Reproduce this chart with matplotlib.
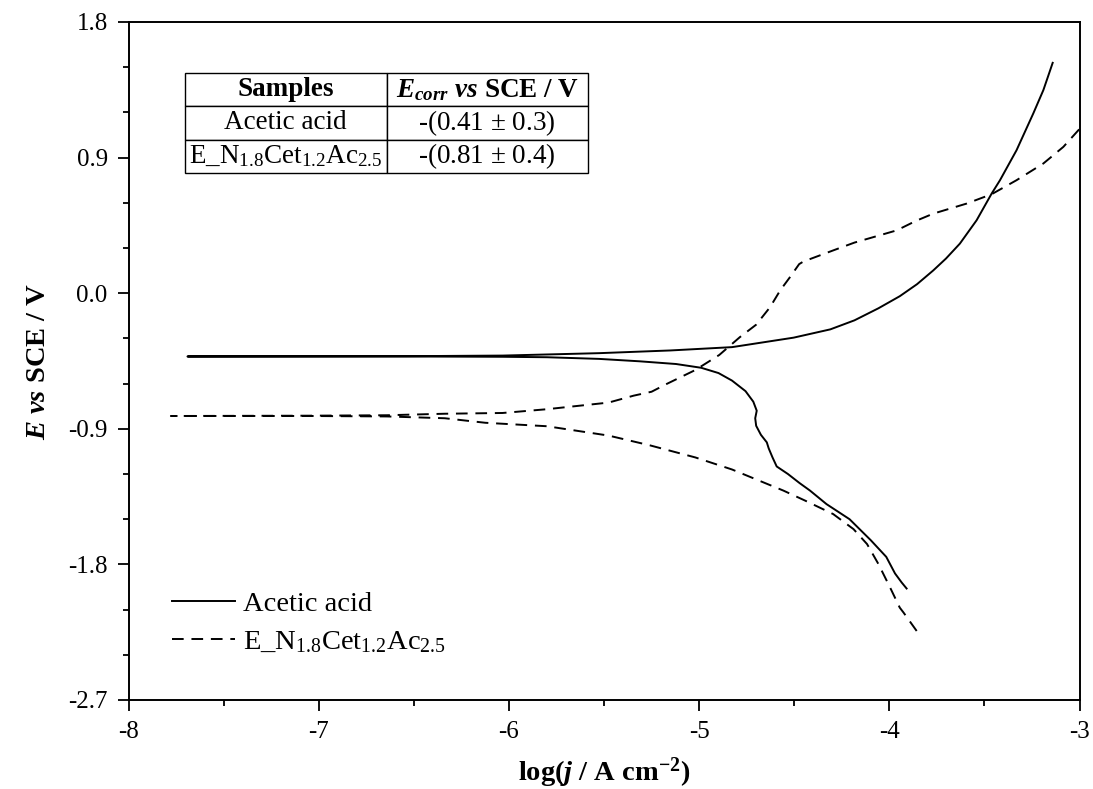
import matplotlib
matplotlib.use("Agg")
import matplotlib.pyplot as plt
from matplotlib.ticker import MultipleLocator, FuncFormatter

plt.rcParams['font.family'] = ['Liberation Serif', 'DejaVu Serif']
plt.rcParams['mathtext.fontset'] = 'custom'
plt.rcParams['mathtext.rm'] = 'Liberation Serif'
plt.rcParams['mathtext.it'] = 'Liberation Serif:italic'
plt.rcParams['mathtext.bf'] = 'Liberation Serif:bold'
plt.rcParams['mathtext.bfit'] = 'Liberation Serif:italic:bold'
plt.rcParams['axes.unicode_minus'] = False

# Acetic acid (solid) - cathodic branch from Ecorr tip outward
aa_cat_x = [-7.69, -6.54, -6.033, -5.80, -5.526, -5.313, -5.121, -4.989, -4.898, -4.827, -4.756,
            -4.715, -4.697, -4.705, -4.700, -4.675, -4.644, -4.634, -4.614, -4.592, -4.533,
            -4.472, -4.417, -4.330, -4.209, -4.097, -4.016, -3.970, -3.935, -3.909]
aa_cat_E = [-0.42, -0.42, -0.422, -0.425, -0.436, -0.452, -0.47, -0.495, -0.53, -0.58, -0.65,
            -0.72, -0.78, -0.83, -0.88, -0.94, -0.99, -1.03, -1.09, -1.15, -1.20,
            -1.26, -1.31, -1.40, -1.50, -1.64, -1.75, -1.86, -1.92, -1.96]
# Acetic acid - anodic branch
aa_an_x = [-7.69, -6.54, -6.033, -5.526, -5.151, -4.827, -4.503, -4.310, -4.183, -4.057, -3.945,
           -3.854, -3.769, -3.702, -3.629, -3.541, -3.462, -3.418, -3.331, -3.243, -3.190,
           -3.165, -3.141]
aa_an_E = [-0.42, -0.418, -0.414, -0.398, -0.38, -0.358, -0.295, -0.24, -0.18, -0.10, -0.02,
           0.06, 0.151, 0.23, 0.329, 0.484, 0.661, 0.75, 0.949, 1.193, 1.348,
           1.44, 1.529]

# E_N1.8Cet1.2Ac2.5 (dashed) - cathodic branch
en_cat_x = [-7.777, -7.047, -6.641, -6.337, -6.124, -5.80, -5.476, -5.258, -5.02, -4.827,
            -4.557, -4.442, -4.295, -4.188, -4.117, -4.057, -3.996, -3.945, -3.925, -3.856]
en_cat_E = [-0.815, -0.815, -0.818, -0.83, -0.86, -0.883, -0.945, -1.01, -1.09, -1.17,
            -1.31, -1.377, -1.466, -1.566, -1.665, -1.798, -1.953, -2.087, -2.12, -2.242]
# E_N1.8Cet1.2Ac2.5 - anodic branch
en_an_x = [-7.777, -7.047, -6.641, -6.337, -6.033, -5.80, -5.476, -5.344, -5.25, -5.17, -5.02,
           -4.894, -4.786, -4.70, -4.627, -4.574, -4.522, -4.474, -4.452, -4.295, -4.183,
           -3.961, -3.86, -3.769, -3.593, -3.462, -3.331, -3.190, -3.085, -3.0]
en_an_E = [-0.815, -0.813, -0.81, -0.80, -0.795, -0.77, -0.726, -0.68, -0.654, -0.602, -0.51,
           -0.41, -0.292, -0.209, -0.093, 0.018, 0.107, 0.193, 0.21, 0.284, 0.336,
           0.417, 0.48, 0.528, 0.595, 0.657, 0.750, 0.861, 0.971, 1.09]

labels = ['Acetic acid', r'E_N$_{1.8}$Cet$_{1.2}$Ac$_{2.5}$']
table_header = ['Samples', r'$\mathbfit{E}_{\mathbfit{corr}}$ $\mathbfit{vs}$ SCE / V']
table_rows = [['Acetic acid', r'-(0.41 $\pm$ 0.3)'],
              [r'E_N$_{1.8}$Cet$_{1.2}$Ac$_{2.5}$', r'-(0.81 $\pm$ 0.4)']]

fig = plt.figure(figsize=(10.93, 7.89), dpi=100)
ax = fig.add_axes([128.5/1093, 1-700/789, 951/1093, 678/789])

x1 = list(reversed(aa_cat_x)) + aa_an_x[1:]
y1 = list(reversed(aa_cat_E)) + aa_an_E[1:]
x2 = list(reversed(en_cat_x)) + en_an_x[1:]
y2 = list(reversed(en_cat_E)) + en_an_E[1:]
ax.plot(x1, y1, color='black', lw=1.4, label=labels[0])
ax.plot(x2, y2, color='black', lw=1.4, ls=(0, (6, 4)), label=labels[1])

ax.set_xlim(-8, -3)
ax.set_ylim(-2.7, 1.8)
ax.xaxis.set_major_locator(MultipleLocator(1))
ax.xaxis.set_minor_locator(MultipleLocator(0.5))
ax.yaxis.set_major_locator(MultipleLocator(0.9))
ax.yaxis.set_minor_locator(MultipleLocator(0.3))
ax.xaxis.set_major_formatter(FuncFormatter(lambda v, p: f'{v:.0f}'))
ax.yaxis.set_major_formatter(FuncFormatter(lambda v, p: f'{v:.1f}' if abs(v) > 1e-9 else '0.0'))
ax.tick_params(which='both', direction='out', top=False, right=False, labelsize=18, width=1.3)
ax.tick_params(which='major', length=8)
ax.tick_params(which='minor', length=4.5)
ax.tick_params(axis='y', which='major', pad=7)
ax.tick_params(axis='x', which='major', pad=7)
for s in ax.spines.values():
    s.set_linewidth(1.4)

ax.set_xlabel(r'log($\mathbfit{j}$ / A cm$^{\mathbf{-2}}$)', fontsize=20.5, fontweight='bold', labelpad=9)
ax.set_ylabel(r'$\mathbfit{E}$ $\mathbfit{vs}$ SCE / V', fontsize=20.5, fontweight='bold', labelpad=12)

leg = ax.legend(loc='upper left', bbox_to_anchor=(0.0457, 0.16), frameon=False, fontsize=20.5,
                handlelength=2.2, handletextpad=0.3, labelspacing=0.42, borderaxespad=0,
                borderpad=0)

tbl = ax.table(cellText=table_rows, colLabels=table_header, cellLoc='center',
               bbox=[0.0594, 0.7773, 0.4238, 0.1475])
tbl.auto_set_font_size(False)
for (r, c), cell in tbl.get_celld().items():
    cell.set_linewidth(1.0)
    cell.get_text().set_fontsize(19.5)
    if r == 0:
        cell.get_text().set_fontweight('bold')

fig.savefig('out.png', dpi=100)
